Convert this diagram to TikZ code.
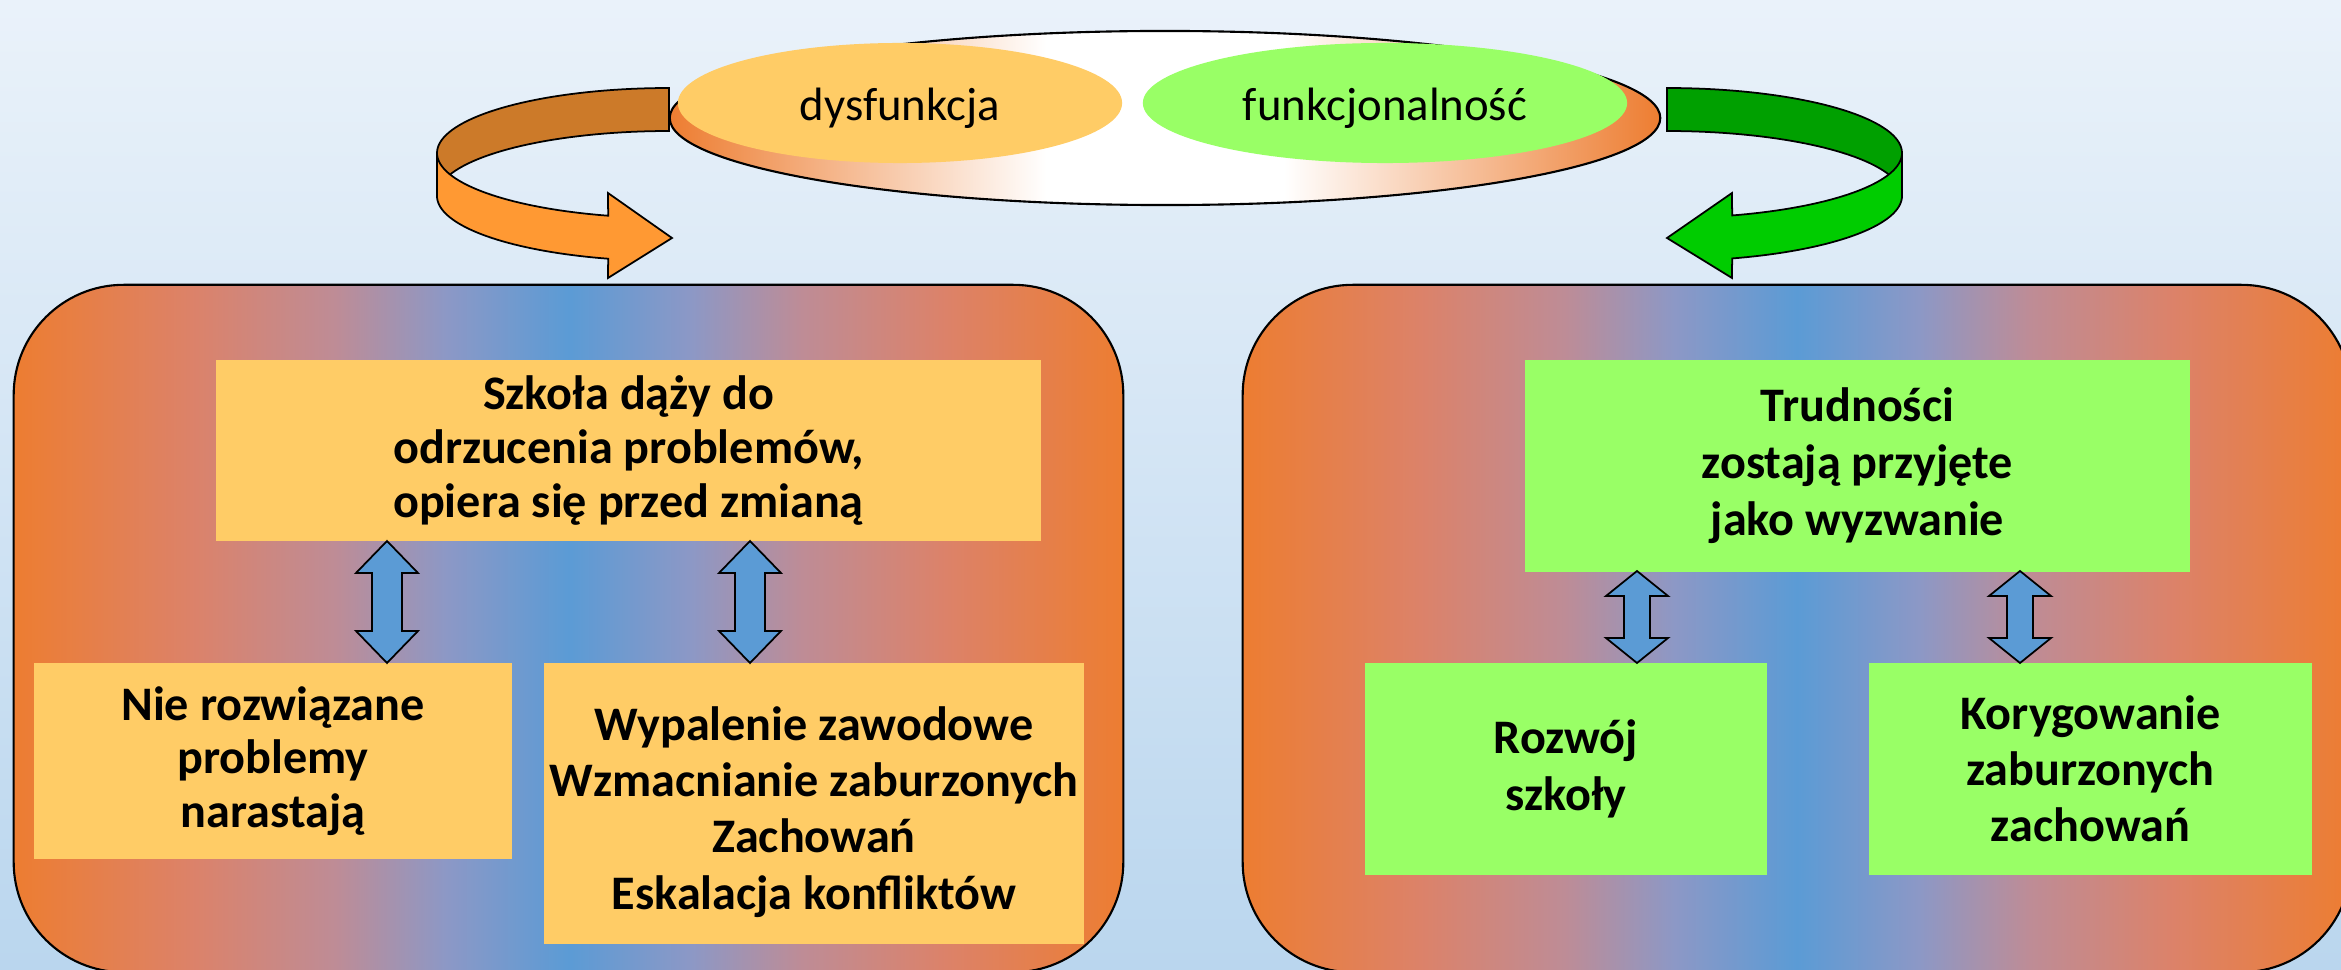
\documentclass[tikz,border=0pt]{standalone}
\usepackage{fontspec}
\setmainfont{Carlito}
\usetikzlibrary{shapes.geometric,calc}
\definecolor{bgtop}{RGB}{234,242,250}
\definecolor{bgbot}{RGB}{186,214,238}
\definecolor{porange}{RGB}{237,125,49}
\definecolor{pmida}{RGB}{220,130,105}
\definecolor{pmidb}{RGB}{190,140,150}
\definecolor{pmidc}{RGB}{140,152,198}
\definecolor{pblue}{RGB}{91,155,213}
\definecolor{boxorange}{RGB}{255,204,102}
\definecolor{boxgreen}{RGB}{153,255,102}
\definecolor{arrdark}{RGB}{204,122,41}
\definecolor{arrlight}{RGB}{255,153,51}
\definecolor{grdark}{RGB}{0,160,0}
\definecolor{grlight}{RGB}{0,204,0}
\pgfdeclarehorizontalshading{panelshade}{100bp}{color(0bp)=(porange); color(25bp)=(porange); color(33bp)=(pmida); color(39.5bp)=(pmidb); color(44.5bp)=(pmidc); color(50bp)=(pblue); color(55.5bp)=(pmidc); color(60.5bp)=(pmidb); color(67bp)=(pmida); color(75bp)=(porange); color(100bp)=(porange)}
\pgfdeclarehorizontalshading{ellshade}{100bp}{color(0bp)=(porange); color(25bp)=(porange); color(44bp)=(white); color(56bp)=(white); color(75bp)=(porange); color(100bp)=(porange)}
\newcommand\dblarr[6]{%
  \coordinate (#1t) at (#2,#3);
  \coordinate (#1b) at (#2,#4);
  \draw[dblarrow] (#1t) -- ++(31,#5) -- ++({-31+#6},0) -- ($(#1b)+(#6,-#5)$) -- ++({31-#6},0) -- (#1b) -- ++(-31,-#5) -- ++({31-#6},0) -- ($(#1t)+(-#6,#5)$) -- ++({-31+#6},0) -- cycle;}
\begin{document}
\begin{tikzpicture}[x=0.01cm, y=-0.01cm,
  outl/.style={draw=black, line width=0.5pt, line join=miter},
  dblarrow/.style={outl, fill=pblue},
  panel/.style={rectangle, rounded corners=1.1cm, draw=black, line width=0.6pt, shading=panelshade, inner sep=0pt},
  box/.style={rectangle, inner sep=0pt, align=center},
  btext/.style={font=\bfseries\fontsize{13.7}{#1}\selectfont},
  elabel/.style={ellipse, inner sep=0pt, font=\fontsize{13.3}{16}\selectfont}]
\useasboundingbox (0,0) rectangle (2341,970);
\shade[top color=bgtop, bottom color=bgbot] (0,0) rectangle (2341,970);

% left ribbon arrow
\draw[outl, fill=arrdark] plot[domain=180:270, samples=40] ({669+232*cos(\x)},{153+65*sin(\x)})
  -- plot[domain=0:90, samples=40] ({669+232*cos(270-\x)},{196+65*sin(270-\x)}) -- cycle;
\draw[outl, fill=arrlight] plot[domain=0:74.8, samples=40] ({669+232*cos(180-\x)},{153+65*sin(180-\x)})
  -- (608,193) -- (672,238) -- (608,278)
  -- plot[domain=105.2:180, samples=40] ({669+232*cos(\x)},{196+65*sin(\x)}) -- cycle;

% right ribbon arrow
\draw[outl, fill=grdark] plot[domain=270:360, samples=40] ({1667+235*cos(\x)},{153+65*sin(\x)})
  -- plot[domain=0:90, samples=40] ({1667+235*cos(360-\x)},{196+65*sin(360-\x)}) -- cycle;
\draw[outl, fill=grlight] plot[domain=0:73.9, samples=40] ({1667+235*cos(\x)},{153+65*sin(\x)})
  -- (1732,193) -- (1667,238) -- (1732,278)
  -- plot[domain=0:73.9, samples=40] ({1667+235*cos(73.9-\x)},{196+65*sin(73.9-\x)}) -- cycle;

% top ellipses
\node[ellipse, draw=black, line width=0.6pt, shading=ellshade, minimum width=9.9cm, minimum height=1.74cm, inner sep=0pt] (big) at (1165,118) {};
\node[elabel, fill=boxorange, minimum width=4.44cm, minimum height=1.2cm] (dys) at (900,103) {\raisebox{-0.05cm}[\height][\depth]{dysfunkcja}};
\node[elabel, fill=boxgreen, minimum width=4.84cm, minimum height=1.2cm] (fun) at (1385,103) {\raisebox{-0.05cm}[\height][\depth]{funkcjonalność}};

% panels
\node[panel, minimum width=11.09cm, minimum height=6.87cm] (lpanel) at (568.5,628.5) {};
\node[panel, minimum width=11.08cm, minimum height=6.87cm] (rpanel) at (1797,628.5) {};

% left boxes
\node[box, fill=boxorange, minimum width=8.25cm, minimum height=1.81cm, btext=15.3] (tl) at (628.5,450.5)
  {Szkoła dąży do\\odrzucenia problemów,\\opiera się przed zmianą};
\node[box, fill=boxorange, minimum width=4.78cm, minimum height=1.96cm, btext=15.3] (bl1) at (273,761)
  {Nie rozwiązane\\problemy\\narastają};
\node[box, fill=boxorange, minimum width=5.39cm, minimum height=2.81cm, btext=16] (bl2) at (814,803.5)
  {\raisebox{-0.1cm}[\height][\depth]{\begin{tabular}{@{}c@{}}Wypalenie zawodowe\\Wzmacnianie zaburzonych\\Zachowań\\Eskalacja konfliktów\end{tabular}}};

% right boxes
\node[box, fill=boxgreen, minimum width=6.65cm, minimum height=2.11cm, btext=16.2] (tr) at (1857.5,466)
  {Trudności\\zostają przyjęte\\jako wyzwanie};
\node[box, fill=boxgreen, minimum width=4.02cm, minimum height=2.12cm, btext=16.2] (br1) at (1566,769)
  {Rozwój\\szkoły};
\node[box, fill=boxgreen, minimum width=4.43cm, minimum height=2.12cm, btext=15.9] (br2) at (2090.5,769)
  {Korygowanie\\zaburzonych\\zachowań};

% double arrows
\dblarr{a1}{387}{541}{663}{32}{15}
\dblarr{a2}{750}{541}{663}{32}{15}
\dblarr{a3}{1637}{571}{663}{25}{13}
\dblarr{a4}{2020}{571}{663}{25}{13}
\end{tikzpicture}
\end{document}
